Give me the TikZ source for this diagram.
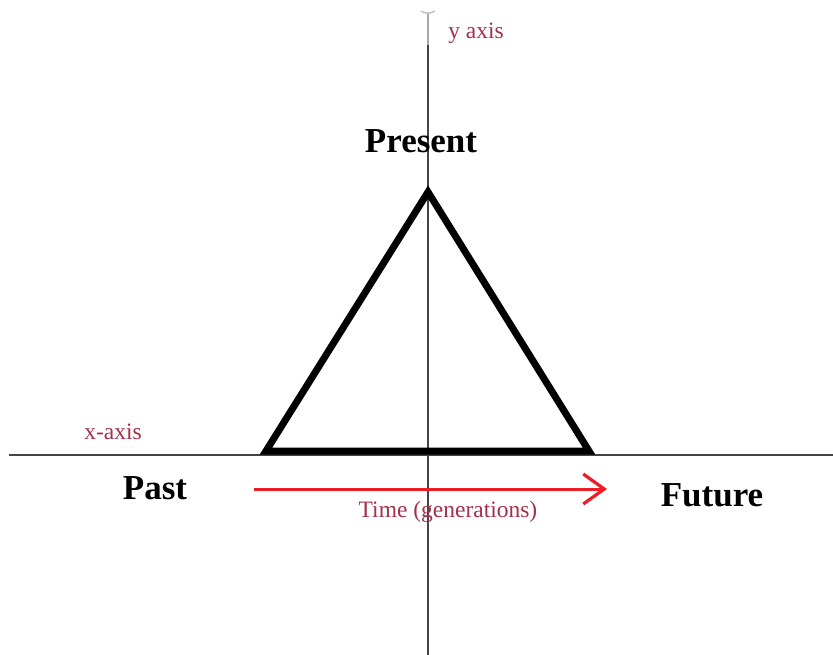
\documentclass[tikz,border=0pt]{standalone}
\usepackage{fontspec}
\setmainfont{Liberation Serif}
\usetikzlibrary{arrows.meta}
\definecolor{axisgrey}{HTML}{454545}
\definecolor{capgrey}{HTML}{A8A8A8}
\definecolor{labelred}{HTML}{A3304C}
\definecolor{arrowred}{HTML}{EE1C25}
\tikzset{
  axisline/.style={draw=axisgrey, line width=1.3pt},
  bigword/.style={font=\fontsize{35}{40}\selectfont\bfseries, text=black, inner sep=0pt},
  redword/.style={font=\fontsize{23.5}{27}\selectfont, text=labelred, inner sep=0pt},
  tri/.style={draw=black, line width=7pt, line join=miter},
  timearrow/.style={draw=arrowred, line width=3pt, -{Straight Barb[length=21pt,width=30pt,line width=3.2pt]}}
}
\begin{document}
\begin{tikzpicture}[x=1pt,y=-1pt]
\useasboundingbox (0,0) rectangle (833,655);
% axes
\coordinate (xl) at (9,455);
\coordinate (xr) at (833,455);
\coordinate (ytop) at (428,13);
\coordinate (ymid) at (428,45);
\coordinate (ybot) at (428,655);
\draw[axisline] (xl) -- (xr);
\draw[draw=capgrey, line width=2pt] (ytop) -- (ymid);
\draw[draw=capgrey!70, line width=1.5pt] (421,11) .. controls (425,14) and (431,14) .. (435,11);
\draw[axisline] (ymid) -- (ybot);
% triangle
\coordinate (apex) at (428,192);
\coordinate (bl) at (266,451);
\coordinate (br) at (589,451);
\draw[tri] (apex) -- (br) -- (bl) -- cycle;
% labels
\node[bigword] (present) at (421,141) {Present};
\node[bigword] (past) at (155,488) {Past};
\node[bigword] (future) at (712,495) {Future};
\node[redword] (yaxis) at (476,33) {y axis};
\node[redword] (xaxis) at (113,432) {x-axis};
\node[redword] (time) at (448,512) {Time (generations)};
% time arrow
\coordinate (ta) at (254,489);
\coordinate (tb) at (607,489);
\draw[timearrow] (ta) -- (tb);
\end{tikzpicture}
\end{document}
